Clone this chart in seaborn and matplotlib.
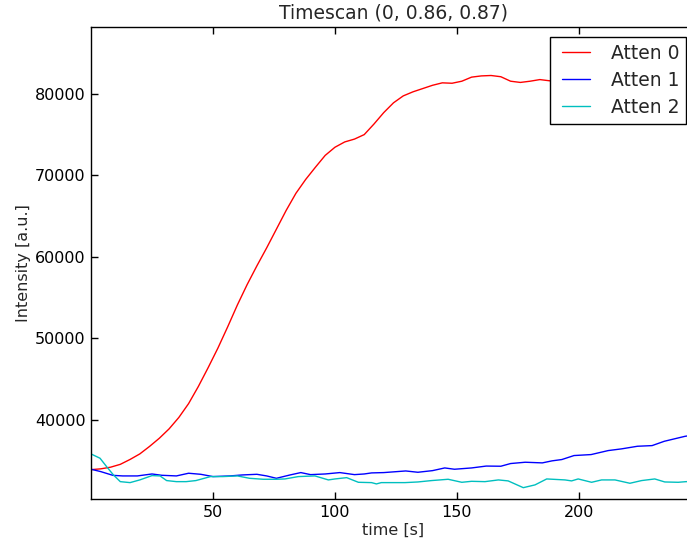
import matplotlib
matplotlib.use("Agg")
import matplotlib.pyplot as plt
from matplotlib.legend_handler import HandlerLine2D
import numpy as np
import pandas as pd
import seaborn as sns

# ---- measured intensities --------------------------------------------------
t_atten0 = [0, 4, 8, 12, 16, 20, 24, 28, 32, 36, 40, 44, 48, 52, 56, 60, 64, 68,
            72, 76, 80, 84, 88, 92, 96, 100, 104, 108, 112, 116, 120, 124, 128,
            132, 136, 140, 144, 148, 152, 156, 160, 164, 168, 172, 176, 180, 184,
            188, 196, 204, 212, 220, 228, 236, 247]
i_atten0 = [33900, 34000, 34200, 34550, 35150, 35830, 36750, 37750, 38900, 40300,
            42000, 44100, 46400, 48800, 51400, 54100, 56600, 58900, 61100, 63400,
            65700, 67800, 69500, 71000, 72450, 73450, 74100, 74450, 75000, 76300,
            77700, 78900, 79750, 80250, 80650, 81050, 81350, 81300, 81550, 82050,
            82200, 82250, 82100, 81550, 81400, 81550, 81750, 81600, 81700, 81500,
            81800, 81600, 81900, 81700, 81800]

t_atten1 = [0, 4, 9, 13, 19, 25, 29, 35, 40, 45, 50, 57, 62, 68, 72, 76, 81.6,
            86, 90, 96, 102, 108, 112, 115, 120, 129, 134, 140, 145, 149, 156,
            162, 168, 172, 178, 185, 189, 193, 198, 205, 212, 217.5, 224, 230,
            235, 243.5, 247]
i_atten1 = [33950, 33660, 33200, 33130, 33130, 33370, 33210, 33130, 33460, 33330,
            33050, 33130, 33250, 33330, 33130, 32840, 33250, 33540, 33290, 33370,
            33540, 33290, 33370, 33500, 33540, 33740, 33580, 33780, 34110, 33950,
            34110, 34340, 34320, 34650, 34810, 34730, 34980, 35140, 35630, 35750,
            36240, 36450, 36770, 36850, 37380, 37990, 38150]

t_atten2 = [0, 3.7, 6.4, 9.2, 12, 16, 20, 25, 28.3, 31, 35, 39, 43, 49, 54, 60,
            65, 70.6, 76, 79.5, 85, 91.8, 97.3, 100, 104.8, 109.6, 115, 117, 119,
            128.7, 134, 139.6, 146.4, 152, 156, 161.5, 167, 171, 177.2, 182,
            186.8, 194.3, 197, 199.7, 205.2, 209.3, 214.8, 220.9, 225.7, 231.1,
            235.2, 240.7, 244, 247]
i_atten2 = [35830, 35300, 34270, 33250, 32430, 32310, 32640, 33170, 33130, 32560,
            32430, 32430, 32560, 33050, 33050, 33130, 32840, 32720, 32720, 32760,
            33050, 33130, 32640, 32760, 32920, 32350, 32310, 32150, 32310, 32310,
            32390, 32560, 32720, 32350, 32470, 32430, 32640, 32520, 31690, 32030,
            32760, 32640, 32520, 32760, 32350, 32640, 32640, 32230, 32560, 32760,
            32390, 32350, 32430, 32400]

labels = ["Atten 0", "Atten 1", "Atten 2"]
colors = ["r", "b", "c"]

frames = []
for lab, t, v in zip(labels, [t_atten0, t_atten1, t_atten2],
                     [i_atten0, i_atten1, i_atten2]):
    frames.append(pd.DataFrame({"time": t, "intensity": v, "series": lab}))
df = pd.concat(frames, ignore_index=True)

# ---- style -----------------------------------------------------------------
sns.set_style("ticks")
plt.rcParams.update({
    "font.family": ["DejaVu Sans"],
    "xtick.direction": "in",
    "ytick.direction": "in",
    "xtick.top": True,
    "ytick.right": True,
    "xtick.major.size": 5,
    "ytick.major.size": 5,
    "xtick.major.width": 1.0,
    "ytick.major.width": 1.0,
    "axes.linewidth": 1.0,
    "axes.edgecolor": "black",
    "xtick.color": "black",
    "ytick.color": "black",
})

fig = plt.figure(figsize=(6.87, 5.43), dpi=100)
ax = fig.add_axes([91 / 687, 44 / 543, (696 - 91) / 687, 472 / 543])

sns.lineplot(data=df, x="time", y="intensity", hue="series",
             palette=dict(zip(labels, colors)), estimator=None, sort=False,
             linewidth=1.0, ax=ax, legend=False)

ax.set_xlim(0, 248)
ax.set_ylim(30300, 88200)
ax.set_xticks([50, 100, 150, 200])
ax.set_yticks([40000, 50000, 60000, 70000, 80000])
ax.tick_params(labelsize=11.5, pad=4)

ax.set_xlabel("time [s]", fontsize=11.5, labelpad=2)
ax.set_ylabel("Intensity [a.u.]", fontsize=11.5, labelpad=3)
ax.set_title("Timescan (0, 0.86, 0.87)", fontsize=13.5, pad=6)

handles = [plt.Line2D([], [], color=c, lw=1.0) for c in colors]
leg = ax.legend(handles, labels, loc="upper right",
                bbox_to_anchor=(686 / 687, (543 - 37) / 543),
                bbox_transform=fig.transFigure, borderaxespad=0,
                fontsize=13.5, frameon=True, fancybox=False, shadow=False,
                framealpha=1.0, edgecolor="black", handlelength=1.79,
                handletextpad=1.1, labelspacing=0.43, borderpad=0.36,
                handler_map={plt.Line2D: HandlerLine2D(xpad=0.3)})
leg.get_frame().set_linewidth(1.0)

fig.savefig("out.png", dpi=100)
